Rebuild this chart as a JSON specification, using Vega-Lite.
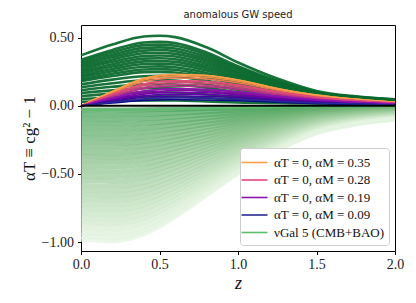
{
"$schema": "https://vega.github.io/schema/vega-lite/v6.json",
"width": 314, "height": 226,
"autosize": {"type": "none"},
"padding": {"left": 81, "top": 25, "right": 21, "bottom": 52},
"background": "white",
"title": {"text": "anomalous GW speed", "fontSize": 10, "font": "DejaVu Sans", "fontWeight": "normal", "offset": 5, "color": "#222"},
"config": {
  "view": {"stroke": "black", "strokeWidth": 1},
  "axis": {"grid": false, "domain": false, "tickColor": "black", "tickSize": 3.5, "labelFlush": false, "labelFont": "Liberation Serif", "labelFontSize": 14, "labelColor": "#222", "titleFont": "Liberation Serif", "titleFontWeight": "normal", "titleColor": "#111"}
},
"data": {"values": [
{"s":"n","v":0.03,"z":0,"y":-0.03,"lab":"νGal 5 (CMB+BAO)"},{"s":"n","v":0.03,"z":0.2,"y":-0.03,"lab":"νGal 5 (CMB+BAO)"},{"s":"n","v":0.03,"z":0.4,"y":-0.029,"lab":"νGal 5 (CMB+BAO)"},{"s":"n","v":0.03,"z":0.6,"y":-0.025,"lab":"νGal 5 (CMB+BAO)"},{"s":"n","v":0.03,"z":0.8,"y":-0.02,"lab":"νGal 5 (CMB+BAO)"},{"s":"n","v":0.03,"z":1,"y":-0.015,"lab":"νGal 5 (CMB+BAO)"},{"s":"n","v":0.03,"z":1.25,"y":-0.01,"lab":"νGal 5 (CMB+BAO)"},{"s":"n","v":0.03,"z":1.5,"y":-0.006,"lab":"νGal 5 (CMB+BAO)"},{"s":"n","v":0.03,"z":1.75,"y":-0.004,"lab":"νGal 5 (CMB+BAO)"},{"s":"n","v":0.03,"z":2,"y":-0.003,"lab":"νGal 5 (CMB+BAO)"},
{"s":"n","v":0.065,"z":0,"y":-0.064},{"s":"n","v":0.065,"z":0.2,"y":-0.065},{"s":"n","v":0.065,"z":0.4,"y":-0.062},{"s":"n","v":0.065,"z":0.6,"y":-0.053},{"s":"n","v":0.065,"z":0.8,"y":-0.043},{"s":"n","v":0.065,"z":1,"y":-0.033},{"s":"n","v":0.065,"z":1.25,"y":-0.021},{"s":"n","v":0.065,"z":1.5,"y":-0.013},{"s":"n","v":0.065,"z":1.75,"y":-0.009},{"s":"n","v":0.065,"z":2,"y":-0.007},
{"s":"n","v":0.1,"z":0,"y":-0.099},{"s":"n","v":0.1,"z":0.2,"y":-0.1},{"s":"n","v":0.1,"z":0.4,"y":-0.095},{"s":"n","v":0.1,"z":0.6,"y":-0.082},{"s":"n","v":0.1,"z":0.8,"y":-0.066},{"s":"n","v":0.1,"z":1,"y":-0.05},{"s":"n","v":0.1,"z":1.25,"y":-0.033},{"s":"n","v":0.1,"z":1.5,"y":-0.02},{"s":"n","v":0.1,"z":1.75,"y":-0.014},{"s":"n","v":0.1,"z":2,"y":-0.01},
{"s":"n","v":0.135,"z":0,"y":-0.134},{"s":"n","v":0.135,"z":0.2,"y":-0.135},{"s":"n","v":0.135,"z":0.4,"y":-0.128},{"s":"n","v":0.135,"z":0.6,"y":-0.111},{"s":"n","v":0.135,"z":0.8,"y":-0.089},{"s":"n","v":0.135,"z":1,"y":-0.068},{"s":"n","v":0.135,"z":1.25,"y":-0.045},{"s":"n","v":0.135,"z":1.5,"y":-0.027},{"s":"n","v":0.135,"z":1.75,"y":-0.018},{"s":"n","v":0.135,"z":2,"y":-0.014},
{"s":"n","v":0.17,"z":0,"y":-0.168},{"s":"n","v":0.17,"z":0.2,"y":-0.17},{"s":"n","v":0.17,"z":0.4,"y":-0.162},{"s":"n","v":0.17,"z":0.6,"y":-0.139},{"s":"n","v":0.17,"z":0.8,"y":-0.112},{"s":"n","v":0.17,"z":1,"y":-0.085},{"s":"n","v":0.17,"z":1.25,"y":-0.056},{"s":"n","v":0.17,"z":1.5,"y":-0.034},{"s":"n","v":0.17,"z":1.75,"y":-0.023},{"s":"n","v":0.17,"z":2,"y":-0.017},
{"s":"n","v":0.205,"z":0,"y":-0.203},{"s":"n","v":0.205,"z":0.2,"y":-0.205},{"s":"n","v":0.205,"z":0.4,"y":-0.195},{"s":"n","v":0.205,"z":0.6,"y":-0.168},{"s":"n","v":0.205,"z":0.8,"y":-0.135},{"s":"n","v":0.205,"z":1,"y":-0.103},{"s":"n","v":0.205,"z":1.25,"y":-0.068},{"s":"n","v":0.205,"z":1.5,"y":-0.041},{"s":"n","v":0.205,"z":1.75,"y":-0.028},{"s":"n","v":0.205,"z":2,"y":-0.021},
{"s":"n","v":0.24,"z":0,"y":-0.238},{"s":"n","v":0.24,"z":0.2,"y":-0.24},{"s":"n","v":0.24,"z":0.4,"y":-0.228},{"s":"n","v":0.24,"z":0.6,"y":-0.197},{"s":"n","v":0.24,"z":0.8,"y":-0.158},{"s":"n","v":0.24,"z":1,"y":-0.12},{"s":"n","v":0.24,"z":1.25,"y":-0.079},{"s":"n","v":0.24,"z":1.5,"y":-0.048},{"s":"n","v":0.24,"z":1.75,"y":-0.032},{"s":"n","v":0.24,"z":2,"y":-0.024},
{"s":"n","v":0.275,"z":0,"y":-0.272},{"s":"n","v":0.275,"z":0.2,"y":-0.275},{"s":"n","v":0.275,"z":0.4,"y":-0.261},{"s":"n","v":0.275,"z":0.6,"y":-0.226},{"s":"n","v":0.275,"z":0.8,"y":-0.182},{"s":"n","v":0.275,"z":1,"y":-0.138},{"s":"n","v":0.275,"z":1.25,"y":-0.091},{"s":"n","v":0.275,"z":1.5,"y":-0.055},{"s":"n","v":0.275,"z":1.75,"y":-0.037},{"s":"n","v":0.275,"z":2,"y":-0.028},
{"s":"n","v":0.31,"z":0,"y":-0.307},{"s":"n","v":0.31,"z":0.2,"y":-0.31},{"s":"n","v":0.31,"z":0.4,"y":-0.295},{"s":"n","v":0.31,"z":0.6,"y":-0.254},{"s":"n","v":0.31,"z":0.8,"y":-0.205},{"s":"n","v":0.31,"z":1,"y":-0.155},{"s":"n","v":0.31,"z":1.25,"y":-0.102},{"s":"n","v":0.31,"z":1.5,"y":-0.062},{"s":"n","v":0.31,"z":1.75,"y":-0.042},{"s":"n","v":0.31,"z":2,"y":-0.031},
{"s":"n","v":0.345,"z":0,"y":-0.342},{"s":"n","v":0.345,"z":0.2,"y":-0.345},{"s":"n","v":0.345,"z":0.4,"y":-0.328},{"s":"n","v":0.345,"z":0.6,"y":-0.283},{"s":"n","v":0.345,"z":0.8,"y":-0.228},{"s":"n","v":0.345,"z":1,"y":-0.173},{"s":"n","v":0.345,"z":1.25,"y":-0.114},{"s":"n","v":0.345,"z":1.5,"y":-0.069},{"s":"n","v":0.345,"z":1.75,"y":-0.047},{"s":"n","v":0.345,"z":2,"y":-0.035},
{"s":"n","v":0.38,"z":0,"y":-0.376},{"s":"n","v":0.38,"z":0.2,"y":-0.38},{"s":"n","v":0.38,"z":0.4,"y":-0.361},{"s":"n","v":0.38,"z":0.6,"y":-0.312},{"s":"n","v":0.38,"z":0.8,"y":-0.251},{"s":"n","v":0.38,"z":1,"y":-0.19},{"s":"n","v":0.38,"z":1.25,"y":-0.125},{"s":"n","v":0.38,"z":1.5,"y":-0.076},{"s":"n","v":0.38,"z":1.75,"y":-0.051},{"s":"n","v":0.38,"z":2,"y":-0.038},
{"s":"n","v":0.415,"z":0,"y":-0.411},{"s":"n","v":0.415,"z":0.2,"y":-0.415},{"s":"n","v":0.415,"z":0.4,"y":-0.394},{"s":"n","v":0.415,"z":0.6,"y":-0.34},{"s":"n","v":0.415,"z":0.8,"y":-0.274},{"s":"n","v":0.415,"z":1,"y":-0.208},{"s":"n","v":0.415,"z":1.25,"y":-0.137},{"s":"n","v":0.415,"z":1.5,"y":-0.083},{"s":"n","v":0.415,"z":1.75,"y":-0.056},{"s":"n","v":0.415,"z":2,"y":-0.042},
{"s":"n","v":0.45,"z":0,"y":-0.446},{"s":"n","v":0.45,"z":0.2,"y":-0.45},{"s":"n","v":0.45,"z":0.4,"y":-0.428},{"s":"n","v":0.45,"z":0.6,"y":-0.369},{"s":"n","v":0.45,"z":0.8,"y":-0.297},{"s":"n","v":0.45,"z":1,"y":-0.225},{"s":"n","v":0.45,"z":1.25,"y":-0.149},{"s":"n","v":0.45,"z":1.5,"y":-0.09},{"s":"n","v":0.45,"z":1.75,"y":-0.061},{"s":"n","v":0.45,"z":2,"y":-0.045},
{"s":"n","v":0.485,"z":0,"y":-0.48},{"s":"n","v":0.485,"z":0.2,"y":-0.485},{"s":"n","v":0.485,"z":0.4,"y":-0.461},{"s":"n","v":0.485,"z":0.6,"y":-0.398},{"s":"n","v":0.485,"z":0.8,"y":-0.32},{"s":"n","v":0.485,"z":1,"y":-0.243},{"s":"n","v":0.485,"z":1.25,"y":-0.16},{"s":"n","v":0.485,"z":1.5,"y":-0.097},{"s":"n","v":0.485,"z":1.75,"y":-0.065},{"s":"n","v":0.485,"z":2,"y":-0.049},
{"s":"n","v":0.52,"z":0,"y":-0.515},{"s":"n","v":0.52,"z":0.2,"y":-0.52},{"s":"n","v":0.52,"z":0.4,"y":-0.494},{"s":"n","v":0.52,"z":0.6,"y":-0.426},{"s":"n","v":0.52,"z":0.8,"y":-0.343},{"s":"n","v":0.52,"z":1,"y":-0.26},{"s":"n","v":0.52,"z":1.25,"y":-0.172},{"s":"n","v":0.52,"z":1.5,"y":-0.104},{"s":"n","v":0.52,"z":1.75,"y":-0.07},{"s":"n","v":0.52,"z":2,"y":-0.052},
{"s":"n","v":0.555,"z":0,"y":-0.549},{"s":"n","v":0.555,"z":0.2,"y":-0.555},{"s":"n","v":0.555,"z":0.4,"y":-0.527},{"s":"n","v":0.555,"z":0.6,"y":-0.455},{"s":"n","v":0.555,"z":0.8,"y":-0.366},{"s":"n","v":0.555,"z":1,"y":-0.278},{"s":"n","v":0.555,"z":1.25,"y":-0.183},{"s":"n","v":0.555,"z":1.5,"y":-0.111},{"s":"n","v":0.555,"z":1.75,"y":-0.075},{"s":"n","v":0.555,"z":2,"y":-0.056},
{"s":"n","v":0.59,"z":0,"y":-0.584},{"s":"n","v":0.59,"z":0.2,"y":-0.59},{"s":"n","v":0.59,"z":0.4,"y":-0.561},{"s":"n","v":0.59,"z":0.6,"y":-0.484},{"s":"n","v":0.59,"z":0.8,"y":-0.389},{"s":"n","v":0.59,"z":1,"y":-0.295},{"s":"n","v":0.59,"z":1.25,"y":-0.195},{"s":"n","v":0.59,"z":1.5,"y":-0.118},{"s":"n","v":0.59,"z":1.75,"y":-0.08},{"s":"n","v":0.59,"z":2,"y":-0.059},
{"s":"n","v":0.625,"z":0,"y":-0.619},{"s":"n","v":0.625,"z":0.2,"y":-0.625},{"s":"n","v":0.625,"z":0.4,"y":-0.594},{"s":"n","v":0.625,"z":0.6,"y":-0.513},{"s":"n","v":0.625,"z":0.8,"y":-0.413},{"s":"n","v":0.625,"z":1,"y":-0.313},{"s":"n","v":0.625,"z":1.25,"y":-0.206},{"s":"n","v":0.625,"z":1.5,"y":-0.125},{"s":"n","v":0.625,"z":1.75,"y":-0.084},{"s":"n","v":0.625,"z":2,"y":-0.063},
{"s":"n","v":0.66,"z":0,"y":-0.653},{"s":"n","v":0.66,"z":0.2,"y":-0.66},{"s":"n","v":0.66,"z":0.4,"y":-0.627},{"s":"n","v":0.66,"z":0.6,"y":-0.541},{"s":"n","v":0.66,"z":0.8,"y":-0.436},{"s":"n","v":0.66,"z":1,"y":-0.33},{"s":"n","v":0.66,"z":1.25,"y":-0.218},{"s":"n","v":0.66,"z":1.5,"y":-0.132},{"s":"n","v":0.66,"z":1.75,"y":-0.089},{"s":"n","v":0.66,"z":2,"y":-0.066},
{"s":"n","v":0.695,"z":0,"y":-0.688},{"s":"n","v":0.695,"z":0.2,"y":-0.695},{"s":"n","v":0.695,"z":0.4,"y":-0.66},{"s":"n","v":0.695,"z":0.6,"y":-0.57},{"s":"n","v":0.695,"z":0.8,"y":-0.459},{"s":"n","v":0.695,"z":1,"y":-0.348},{"s":"n","v":0.695,"z":1.25,"y":-0.229},{"s":"n","v":0.695,"z":1.5,"y":-0.139},{"s":"n","v":0.695,"z":1.75,"y":-0.094},{"s":"n","v":0.695,"z":2,"y":-0.07},
{"s":"n","v":0.73,"z":0,"y":-0.723},{"s":"n","v":0.73,"z":0.2,"y":-0.73},{"s":"n","v":0.73,"z":0.4,"y":-0.694},{"s":"n","v":0.73,"z":0.6,"y":-0.599},{"s":"n","v":0.73,"z":0.8,"y":-0.482},{"s":"n","v":0.73,"z":1,"y":-0.365},{"s":"n","v":0.73,"z":1.25,"y":-0.241},{"s":"n","v":0.73,"z":1.5,"y":-0.146},{"s":"n","v":0.73,"z":1.75,"y":-0.099},{"s":"n","v":0.73,"z":2,"y":-0.073},
{"s":"n","v":0.765,"z":0,"y":-0.757},{"s":"n","v":0.765,"z":0.2,"y":-0.765},{"s":"n","v":0.765,"z":0.4,"y":-0.727},{"s":"n","v":0.765,"z":0.6,"y":-0.627},{"s":"n","v":0.765,"z":0.8,"y":-0.505},{"s":"n","v":0.765,"z":1,"y":-0.383},{"s":"n","v":0.765,"z":1.25,"y":-0.252},{"s":"n","v":0.765,"z":1.5,"y":-0.153},{"s":"n","v":0.765,"z":1.75,"y":-0.103},{"s":"n","v":0.765,"z":2,"y":-0.077},
{"s":"n","v":0.8,"z":0,"y":-0.792},{"s":"n","v":0.8,"z":0.2,"y":-0.8},{"s":"n","v":0.8,"z":0.4,"y":-0.76},{"s":"n","v":0.8,"z":0.6,"y":-0.656},{"s":"n","v":0.8,"z":0.8,"y":-0.528},{"s":"n","v":0.8,"z":1,"y":-0.4},{"s":"n","v":0.8,"z":1.25,"y":-0.264},{"s":"n","v":0.8,"z":1.5,"y":-0.16},{"s":"n","v":0.8,"z":1.75,"y":-0.108},{"s":"n","v":0.8,"z":2,"y":-0.08},
{"s":"n","v":0.835,"z":0,"y":-0.827},{"s":"n","v":0.835,"z":0.2,"y":-0.835},{"s":"n","v":0.835,"z":0.4,"y":-0.793},{"s":"n","v":0.835,"z":0.6,"y":-0.685},{"s":"n","v":0.835,"z":0.8,"y":-0.551},{"s":"n","v":0.835,"z":1,"y":-0.418},{"s":"n","v":0.835,"z":1.25,"y":-0.276},{"s":"n","v":0.835,"z":1.5,"y":-0.167},{"s":"n","v":0.835,"z":1.75,"y":-0.113},{"s":"n","v":0.835,"z":2,"y":-0.084},
{"s":"n","v":0.87,"z":0,"y":-0.861},{"s":"n","v":0.87,"z":0.2,"y":-0.87},{"s":"n","v":0.87,"z":0.4,"y":-0.827},{"s":"n","v":0.87,"z":0.6,"y":-0.713},{"s":"n","v":0.87,"z":0.8,"y":-0.574},{"s":"n","v":0.87,"z":1,"y":-0.435},{"s":"n","v":0.87,"z":1.25,"y":-0.287},{"s":"n","v":0.87,"z":1.5,"y":-0.174},{"s":"n","v":0.87,"z":1.75,"y":-0.117},{"s":"n","v":0.87,"z":2,"y":-0.087},
{"s":"n","v":0.905,"z":0,"y":-0.896},{"s":"n","v":0.905,"z":0.2,"y":-0.905},{"s":"n","v":0.905,"z":0.4,"y":-0.86},{"s":"n","v":0.905,"z":0.6,"y":-0.742},{"s":"n","v":0.905,"z":0.8,"y":-0.597},{"s":"n","v":0.905,"z":1,"y":-0.453},{"s":"n","v":0.905,"z":1.25,"y":-0.299},{"s":"n","v":0.905,"z":1.5,"y":-0.181},{"s":"n","v":0.905,"z":1.75,"y":-0.122},{"s":"n","v":0.905,"z":2,"y":-0.091},
{"s":"n","v":0.94,"z":0,"y":-0.931},{"s":"n","v":0.94,"z":0.2,"y":-0.94},{"s":"n","v":0.94,"z":0.4,"y":-0.893},{"s":"n","v":0.94,"z":0.6,"y":-0.771},{"s":"n","v":0.94,"z":0.8,"y":-0.62},{"s":"n","v":0.94,"z":1,"y":-0.47},{"s":"n","v":0.94,"z":1.25,"y":-0.31},{"s":"n","v":0.94,"z":1.5,"y":-0.188},{"s":"n","v":0.94,"z":1.75,"y":-0.127},{"s":"n","v":0.94,"z":2,"y":-0.094},
{"s":"n","v":0.97,"z":0,"y":-0.96},{"s":"n","v":0.97,"z":0.2,"y":-0.97},{"s":"n","v":0.97,"z":0.4,"y":-0.922},{"s":"n","v":0.97,"z":0.6,"y":-0.795},{"s":"n","v":0.97,"z":0.8,"y":-0.64},{"s":"n","v":0.97,"z":1,"y":-0.485},{"s":"n","v":0.97,"z":1.25,"y":-0.32},{"s":"n","v":0.97,"z":1.5,"y":-0.194},{"s":"n","v":0.97,"z":1.75,"y":-0.131},{"s":"n","v":0.97,"z":2,"y":-0.097},
{"s":"n","v":0.99,"z":0,"y":-0.98},{"s":"n","v":0.99,"z":0.2,"y":-0.99},{"s":"n","v":0.99,"z":0.4,"y":-0.941},{"s":"n","v":0.99,"z":0.6,"y":-0.812},{"s":"n","v":0.99,"z":0.8,"y":-0.653},{"s":"n","v":0.99,"z":1,"y":-0.495},{"s":"n","v":0.99,"z":1.25,"y":-0.327},{"s":"n","v":0.99,"z":1.5,"y":-0.198},{"s":"n","v":0.99,"z":1.75,"y":-0.134},{"s":"n","v":0.99,"z":2,"y":-0.099},
{"s":"p","v":0.515,"z":0,"y":0.371},{"s":"p","v":0.515,"z":0.2,"y":0.451},{"s":"p","v":0.515,"z":0.4,"y":0.51},{"s":"p","v":0.515,"z":0.5,"y":0.515},{"s":"p","v":0.515,"z":0.6,"y":0.505},{"s":"p","v":0.515,"z":0.8,"y":0.43},{"s":"p","v":0.515,"z":1,"y":0.319},{"s":"p","v":0.515,"z":1.25,"y":0.201},{"s":"p","v":0.515,"z":1.5,"y":0.11},{"s":"p","v":0.515,"z":1.75,"y":0.07},{"s":"p","v":0.515,"z":2,"y":0.048},
{"s":"p","v":0.47,"z":0,"y":0.338},{"s":"p","v":0.47,"z":0.2,"y":0.411},{"s":"p","v":0.47,"z":0.4,"y":0.465},{"s":"p","v":0.47,"z":0.5,"y":0.47},{"s":"p","v":0.47,"z":0.6,"y":0.461},{"s":"p","v":0.47,"z":0.8,"y":0.392},{"s":"p","v":0.47,"z":1,"y":0.291},{"s":"p","v":0.47,"z":1.25,"y":0.184},{"s":"p","v":0.47,"z":1.5,"y":0.102},{"s":"p","v":0.47,"z":1.75,"y":0.066},{"s":"p","v":0.47,"z":2,"y":0.046},
{"s":"p","v":0.45,"z":0,"y":0.324},{"s":"p","v":0.45,"z":0.2,"y":0.394},{"s":"p","v":0.45,"z":0.4,"y":0.446},{"s":"p","v":0.45,"z":0.5,"y":0.45},{"s":"p","v":0.45,"z":0.6,"y":0.441},{"s":"p","v":0.45,"z":0.8,"y":0.376},{"s":"p","v":0.45,"z":1,"y":0.279},{"s":"p","v":0.45,"z":1.25,"y":0.177},{"s":"p","v":0.45,"z":1.5,"y":0.099},{"s":"p","v":0.45,"z":1.75,"y":0.064},{"s":"p","v":0.45,"z":2,"y":0.045},
{"s":"p","v":0.43,"z":0,"y":0.31},{"s":"p","v":0.43,"z":0.2,"y":0.376},{"s":"p","v":0.43,"z":0.4,"y":0.426},{"s":"p","v":0.43,"z":0.5,"y":0.43},{"s":"p","v":0.43,"z":0.6,"y":0.421},{"s":"p","v":0.43,"z":0.8,"y":0.359},{"s":"p","v":0.43,"z":1,"y":0.267},{"s":"p","v":0.43,"z":1.25,"y":0.169},{"s":"p","v":0.43,"z":1.5,"y":0.095},{"s":"p","v":0.43,"z":1.75,"y":0.062},{"s":"p","v":0.43,"z":2,"y":0.044},
{"s":"p","v":0.41,"z":0,"y":0.295},{"s":"p","v":0.41,"z":0.2,"y":0.359},{"s":"p","v":0.41,"z":0.4,"y":0.406},{"s":"p","v":0.41,"z":0.5,"y":0.41},{"s":"p","v":0.41,"z":0.6,"y":0.402},{"s":"p","v":0.41,"z":0.8,"y":0.342},{"s":"p","v":0.41,"z":1,"y":0.254},{"s":"p","v":0.41,"z":1.25,"y":0.162},{"s":"p","v":0.41,"z":1.5,"y":0.092},{"s":"p","v":0.41,"z":1.75,"y":0.06},{"s":"p","v":0.41,"z":2,"y":0.043},
{"s":"p","v":0.39,"z":0,"y":0.281},{"s":"p","v":0.39,"z":0.2,"y":0.341},{"s":"p","v":0.39,"z":0.4,"y":0.386},{"s":"p","v":0.39,"z":0.5,"y":0.39},{"s":"p","v":0.39,"z":0.6,"y":0.382},{"s":"p","v":0.39,"z":0.8,"y":0.326},{"s":"p","v":0.39,"z":1,"y":0.242},{"s":"p","v":0.39,"z":1.25,"y":0.154},{"s":"p","v":0.39,"z":1.5,"y":0.088},{"s":"p","v":0.39,"z":1.75,"y":0.058},{"s":"p","v":0.39,"z":2,"y":0.041},
{"s":"p","v":0.37,"z":0,"y":0.266},{"s":"p","v":0.37,"z":0.2,"y":0.324},{"s":"p","v":0.37,"z":0.4,"y":0.366},{"s":"p","v":0.37,"z":0.5,"y":0.37},{"s":"p","v":0.37,"z":0.6,"y":0.363},{"s":"p","v":0.37,"z":0.8,"y":0.309},{"s":"p","v":0.37,"z":1,"y":0.229},{"s":"p","v":0.37,"z":1.25,"y":0.147},{"s":"p","v":0.37,"z":1.5,"y":0.085},{"s":"p","v":0.37,"z":1.75,"y":0.056},{"s":"p","v":0.37,"z":2,"y":0.04},
{"s":"p","v":0.35,"z":0,"y":0.252},{"s":"p","v":0.35,"z":0.2,"y":0.306},{"s":"p","v":0.35,"z":0.4,"y":0.347},{"s":"p","v":0.35,"z":0.5,"y":0.35},{"s":"p","v":0.35,"z":0.6,"y":0.343},{"s":"p","v":0.35,"z":0.8,"y":0.292},{"s":"p","v":0.35,"z":1,"y":0.217},{"s":"p","v":0.35,"z":1.25,"y":0.14},{"s":"p","v":0.35,"z":1.5,"y":0.081},{"s":"p","v":0.35,"z":1.75,"y":0.054},{"s":"p","v":0.35,"z":2,"y":0.039},
{"s":"p","v":0.33,"z":0,"y":0.238},{"s":"p","v":0.33,"z":0.2,"y":0.289},{"s":"p","v":0.33,"z":0.4,"y":0.327},{"s":"p","v":0.33,"z":0.5,"y":0.33},{"s":"p","v":0.33,"z":0.6,"y":0.323},{"s":"p","v":0.33,"z":0.8,"y":0.276},{"s":"p","v":0.33,"z":1,"y":0.205},{"s":"p","v":0.33,"z":1.25,"y":0.132},{"s":"p","v":0.33,"z":1.5,"y":0.078},{"s":"p","v":0.33,"z":1.75,"y":0.052},{"s":"p","v":0.33,"z":2,"y":0.038},
{"s":"p","v":0.31,"z":0,"y":0.223},{"s":"p","v":0.31,"z":0.2,"y":0.271},{"s":"p","v":0.31,"z":0.4,"y":0.307},{"s":"p","v":0.31,"z":0.5,"y":0.31},{"s":"p","v":0.31,"z":0.6,"y":0.304},{"s":"p","v":0.31,"z":0.8,"y":0.259},{"s":"p","v":0.31,"z":1,"y":0.192},{"s":"p","v":0.31,"z":1.25,"y":0.125},{"s":"p","v":0.31,"z":1.5,"y":0.074},{"s":"p","v":0.31,"z":1.75,"y":0.05},{"s":"p","v":0.31,"z":2,"y":0.037},
{"s":"p","v":0.29,"z":0,"y":0.209},{"s":"p","v":0.29,"z":0.2,"y":0.254},{"s":"p","v":0.29,"z":0.4,"y":0.287},{"s":"p","v":0.29,"z":0.5,"y":0.29},{"s":"p","v":0.29,"z":0.6,"y":0.284},{"s":"p","v":0.29,"z":0.8,"y":0.242},{"s":"p","v":0.29,"z":1,"y":0.18},{"s":"p","v":0.29,"z":1.25,"y":0.117},{"s":"p","v":0.29,"z":1.5,"y":0.071},{"s":"p","v":0.29,"z":1.75,"y":0.048},{"s":"p","v":0.29,"z":2,"y":0.036},
{"s":"p","v":0.27,"z":0,"y":0.194},{"s":"p","v":0.27,"z":0.2,"y":0.236},{"s":"p","v":0.27,"z":0.4,"y":0.267},{"s":"p","v":0.27,"z":0.5,"y":0.27},{"s":"p","v":0.27,"z":0.6,"y":0.265},{"s":"p","v":0.27,"z":0.8,"y":0.225},{"s":"p","v":0.27,"z":1,"y":0.167},{"s":"p","v":0.27,"z":1.25,"y":0.11},{"s":"p","v":0.27,"z":1.5,"y":0.067},{"s":"p","v":0.27,"z":1.75,"y":0.046},{"s":"p","v":0.27,"z":2,"y":0.035},
{"s":"p","v":0.25,"z":0,"y":0.18},{"s":"p","v":0.25,"z":0.2,"y":0.219},{"s":"p","v":0.25,"z":0.4,"y":0.248},{"s":"p","v":0.25,"z":0.5,"y":0.25},{"s":"p","v":0.25,"z":0.6,"y":0.245},{"s":"p","v":0.25,"z":0.8,"y":0.209},{"s":"p","v":0.25,"z":1,"y":0.155},{"s":"p","v":0.25,"z":1.25,"y":0.103},{"s":"p","v":0.25,"z":1.5,"y":0.064},{"s":"p","v":0.25,"z":1.75,"y":0.044},{"s":"p","v":0.25,"z":2,"y":0.034},
{"s":"p","v":0.22,"z":0,"y":0.158},{"s":"p","v":0.22,"z":0.2,"y":0.193},{"s":"p","v":0.22,"z":0.4,"y":0.218},{"s":"p","v":0.22,"z":0.5,"y":0.22},{"s":"p","v":0.22,"z":0.6,"y":0.216},{"s":"p","v":0.22,"z":0.8,"y":0.184},{"s":"p","v":0.22,"z":1,"y":0.136},{"s":"p","v":0.22,"z":1.25,"y":0.091},{"s":"p","v":0.22,"z":1.5,"y":0.059},{"s":"p","v":0.22,"z":1.75,"y":0.041},{"s":"p","v":0.22,"z":2,"y":0.032},
{"s":"p","v":0.19,"z":0,"y":0.137},{"s":"p","v":0.19,"z":0.2,"y":0.166},{"s":"p","v":0.19,"z":0.4,"y":0.188},{"s":"p","v":0.19,"z":0.5,"y":0.19},{"s":"p","v":0.19,"z":0.6,"y":0.186},{"s":"p","v":0.19,"z":0.8,"y":0.159},{"s":"p","v":0.19,"z":1,"y":0.118},{"s":"p","v":0.19,"z":1.25,"y":0.08},{"s":"p","v":0.19,"z":1.5,"y":0.053},{"s":"p","v":0.19,"z":1.75,"y":0.038},{"s":"p","v":0.19,"z":2,"y":0.03},
{"s":"p","v":0.16,"z":0,"y":0.115},{"s":"p","v":0.16,"z":0.2,"y":0.14},{"s":"p","v":0.16,"z":0.4,"y":0.158},{"s":"p","v":0.16,"z":0.5,"y":0.16},{"s":"p","v":0.16,"z":0.6,"y":0.157},{"s":"p","v":0.16,"z":0.8,"y":0.134},{"s":"p","v":0.16,"z":1,"y":0.099},{"s":"p","v":0.16,"z":1.25,"y":0.069},{"s":"p","v":0.16,"z":1.5,"y":0.048},{"s":"p","v":0.16,"z":1.75,"y":0.036},{"s":"p","v":0.16,"z":2,"y":0.029},
{"s":"p","v":0.13,"z":0,"y":0.094},{"s":"p","v":0.13,"z":0.2,"y":0.114},{"s":"p","v":0.13,"z":0.4,"y":0.129},{"s":"p","v":0.13,"z":0.5,"y":0.13},{"s":"p","v":0.13,"z":0.6,"y":0.127},{"s":"p","v":0.13,"z":0.8,"y":0.109},{"s":"p","v":0.13,"z":1,"y":0.081},{"s":"p","v":0.13,"z":1.25,"y":0.058},{"s":"p","v":0.13,"z":1.5,"y":0.043},{"s":"p","v":0.13,"z":1.75,"y":0.033},{"s":"p","v":0.13,"z":2,"y":0.027},
{"s":"p","v":0.1,"z":0,"y":0.072},{"s":"p","v":0.1,"z":0.2,"y":0.088},{"s":"p","v":0.1,"z":0.4,"y":0.099},{"s":"p","v":0.1,"z":0.5,"y":0.1},{"s":"p","v":0.1,"z":0.6,"y":0.098},{"s":"p","v":0.1,"z":0.8,"y":0.084},{"s":"p","v":0.1,"z":1,"y":0.062},{"s":"p","v":0.1,"z":1.25,"y":0.047},{"s":"p","v":0.1,"z":1.5,"y":0.038},{"s":"p","v":0.1,"z":1.75,"y":0.03},{"s":"p","v":0.1,"z":2,"y":0.026},
{"s":"p","v":0.07,"z":0,"y":0.05},{"s":"p","v":0.07,"z":0.2,"y":0.061},{"s":"p","v":0.07,"z":0.4,"y":0.069},{"s":"p","v":0.07,"z":0.5,"y":0.07},{"s":"p","v":0.07,"z":0.6,"y":0.069},{"s":"p","v":0.07,"z":0.8,"y":0.058},{"s":"p","v":0.07,"z":1,"y":0.043},{"s":"p","v":0.07,"z":1.25,"y":0.035},{"s":"p","v":0.07,"z":1.5,"y":0.028},{"s":"p","v":0.07,"z":1.75,"y":0.023},{"s":"p","v":0.07,"z":2,"y":0.021},
{"s":"p","v":0.04,"z":0,"y":0.029},{"s":"p","v":0.04,"z":0.2,"y":0.035},{"s":"p","v":0.04,"z":0.4,"y":0.04},{"s":"p","v":0.04,"z":0.5,"y":0.04},{"s":"p","v":0.04,"z":0.6,"y":0.039},{"s":"p","v":0.04,"z":0.8,"y":0.033},{"s":"p","v":0.04,"z":1,"y":0.025},{"s":"p","v":0.04,"z":1.25,"y":0.021},{"s":"p","v":0.04,"z":1.5,"y":0.019},{"s":"p","v":0.04,"z":1.75,"y":0.017},{"s":"p","v":0.04,"z":2,"y":0.016},
{"s":"c","v":0.35,"z":0,"y":0,"lab":"αT = 0, αM = 0.35"},{"s":"c","v":0.35,"z":0.1,"y":0.055,"lab":"αT = 0, αM = 0.35"},{"s":"c","v":0.35,"z":0.2,"y":0.106,"lab":"αT = 0, αM = 0.35"},{"s":"c","v":0.35,"z":0.4,"y":0.201,"lab":"αT = 0, αM = 0.35"},{"s":"c","v":0.35,"z":0.5,"y":0.223,"lab":"αT = 0, αM = 0.35"},{"s":"c","v":0.35,"z":0.6,"y":0.231,"lab":"αT = 0, αM = 0.35"},{"s":"c","v":0.35,"z":0.8,"y":0.223,"lab":"αT = 0, αM = 0.35"},{"s":"c","v":0.35,"z":1,"y":0.191,"lab":"αT = 0, αM = 0.35"},{"s":"c","v":0.35,"z":1.25,"y":0.128,"lab":"αT = 0, αM = 0.35"},{"s":"c","v":0.35,"z":1.5,"y":0.08,"lab":"αT = 0, αM = 0.35"},{"s":"c","v":0.35,"z":1.75,"y":0.05,"lab":"αT = 0, αM = 0.35"},{"s":"c","v":0.35,"z":2,"y":0.027,"lab":"αT = 0, αM = 0.35"},
{"s":"c","v":0.33,"z":0,"y":0},{"s":"c","v":0.33,"z":0.1,"y":0.052},{"s":"c","v":0.33,"z":0.2,"y":0.1},{"s":"c","v":0.33,"z":0.4,"y":0.19},{"s":"c","v":0.33,"z":0.5,"y":0.21},{"s":"c","v":0.33,"z":0.6,"y":0.218},{"s":"c","v":0.33,"z":0.8,"y":0.21},{"s":"c","v":0.33,"z":1,"y":0.18},{"s":"c","v":0.33,"z":1.25,"y":0.121},{"s":"c","v":0.33,"z":1.5,"y":0.076},{"s":"c","v":0.33,"z":1.75,"y":0.047},{"s":"c","v":0.33,"z":2,"y":0.026},
{"s":"c","v":0.31,"z":0,"y":0},{"s":"c","v":0.31,"z":0.1,"y":0.049},{"s":"c","v":0.31,"z":0.2,"y":0.094},{"s":"c","v":0.31,"z":0.4,"y":0.178},{"s":"c","v":0.31,"z":0.5,"y":0.198},{"s":"c","v":0.31,"z":0.6,"y":0.205},{"s":"c","v":0.31,"z":0.8,"y":0.198},{"s":"c","v":0.31,"z":1,"y":0.169},{"s":"c","v":0.31,"z":1.25,"y":0.114},{"s":"c","v":0.31,"z":1.5,"y":0.071},{"s":"c","v":0.31,"z":1.75,"y":0.044},{"s":"c","v":0.31,"z":2,"y":0.024},
{"s":"c","v":0.28,"z":0,"y":0,"lab":"αT = 0, αM = 0.28"},{"s":"c","v":0.28,"z":0.1,"y":0.044,"lab":"αT = 0, αM = 0.28"},{"s":"c","v":0.28,"z":0.2,"y":0.085,"lab":"αT = 0, αM = 0.28"},{"s":"c","v":0.28,"z":0.4,"y":0.161,"lab":"αT = 0, αM = 0.28"},{"s":"c","v":0.28,"z":0.5,"y":0.179,"lab":"αT = 0, αM = 0.28"},{"s":"c","v":0.28,"z":0.6,"y":0.185,"lab":"αT = 0, αM = 0.28"},{"s":"c","v":0.28,"z":0.8,"y":0.179,"lab":"αT = 0, αM = 0.28"},{"s":"c","v":0.28,"z":1,"y":0.153,"lab":"αT = 0, αM = 0.28"},{"s":"c","v":0.28,"z":1.25,"y":0.103,"lab":"αT = 0, αM = 0.28"},{"s":"c","v":0.28,"z":1.5,"y":0.064,"lab":"αT = 0, αM = 0.28"},{"s":"c","v":0.28,"z":1.75,"y":0.04,"lab":"αT = 0, αM = 0.28"},{"s":"c","v":0.28,"z":2,"y":0.022,"lab":"αT = 0, αM = 0.28"},
{"s":"c","v":0.26,"z":0,"y":0},{"s":"c","v":0.26,"z":0.1,"y":0.041},{"s":"c","v":0.26,"z":0.2,"y":0.079},{"s":"c","v":0.26,"z":0.4,"y":0.15},{"s":"c","v":0.26,"z":0.5,"y":0.166},{"s":"c","v":0.26,"z":0.6,"y":0.172},{"s":"c","v":0.26,"z":0.8,"y":0.166},{"s":"c","v":0.26,"z":1,"y":0.142},{"s":"c","v":0.26,"z":1.25,"y":0.096},{"s":"c","v":0.26,"z":1.5,"y":0.06},{"s":"c","v":0.26,"z":1.75,"y":0.037},{"s":"c","v":0.26,"z":2,"y":0.02},
{"s":"c","v":0.24,"z":0,"y":0},{"s":"c","v":0.24,"z":0.1,"y":0.038},{"s":"c","v":0.24,"z":0.2,"y":0.073},{"s":"c","v":0.24,"z":0.4,"y":0.137},{"s":"c","v":0.24,"z":0.5,"y":0.152},{"s":"c","v":0.24,"z":0.6,"y":0.158},{"s":"c","v":0.24,"z":0.8,"y":0.152},{"s":"c","v":0.24,"z":1,"y":0.131},{"s":"c","v":0.24,"z":1.25,"y":0.088},{"s":"c","v":0.24,"z":1.5,"y":0.055},{"s":"c","v":0.24,"z":1.75,"y":0.034},{"s":"c","v":0.24,"z":2,"y":0.018},
{"s":"c","v":0.22,"z":0,"y":0},{"s":"c","v":0.22,"z":0.1,"y":0.035},{"s":"c","v":0.22,"z":0.2,"y":0.067},{"s":"c","v":0.22,"z":0.4,"y":0.126},{"s":"c","v":0.22,"z":0.5,"y":0.14},{"s":"c","v":0.22,"z":0.6,"y":0.145},{"s":"c","v":0.22,"z":0.8,"y":0.14},{"s":"c","v":0.22,"z":1,"y":0.12},{"s":"c","v":0.22,"z":1.25,"y":0.081},{"s":"c","v":0.22,"z":1.5,"y":0.05},{"s":"c","v":0.22,"z":1.75,"y":0.031},{"s":"c","v":0.22,"z":2,"y":0.017},
{"s":"c","v":0.19,"z":0,"y":0,"lab":"αT = 0, αM = 0.19"},{"s":"c","v":0.19,"z":0.1,"y":0.03,"lab":"αT = 0, αM = 0.19"},{"s":"c","v":0.19,"z":0.2,"y":0.058,"lab":"αT = 0, αM = 0.19"},{"s":"c","v":0.19,"z":0.4,"y":0.109,"lab":"αT = 0, αM = 0.19"},{"s":"c","v":0.19,"z":0.5,"y":0.121,"lab":"αT = 0, αM = 0.19"},{"s":"c","v":0.19,"z":0.6,"y":0.125,"lab":"αT = 0, αM = 0.19"},{"s":"c","v":0.19,"z":0.8,"y":0.121,"lab":"αT = 0, αM = 0.19"},{"s":"c","v":0.19,"z":1,"y":0.103,"lab":"αT = 0, αM = 0.19"},{"s":"c","v":0.19,"z":1.25,"y":0.07,"lab":"αT = 0, αM = 0.19"},{"s":"c","v":0.19,"z":1.5,"y":0.044,"lab":"αT = 0, αM = 0.19"},{"s":"c","v":0.19,"z":1.75,"y":0.027,"lab":"αT = 0, αM = 0.19"},{"s":"c","v":0.19,"z":2,"y":0.015,"lab":"αT = 0, αM = 0.19"},
{"s":"c","v":0.17,"z":0,"y":0},{"s":"c","v":0.17,"z":0.1,"y":0.027},{"s":"c","v":0.17,"z":0.2,"y":0.052},{"s":"c","v":0.17,"z":0.4,"y":0.097},{"s":"c","v":0.17,"z":0.5,"y":0.108},{"s":"c","v":0.17,"z":0.6,"y":0.112},{"s":"c","v":0.17,"z":0.8,"y":0.108},{"s":"c","v":0.17,"z":1,"y":0.093},{"s":"c","v":0.17,"z":1.25,"y":0.062},{"s":"c","v":0.17,"z":1.5,"y":0.039},{"s":"c","v":0.17,"z":1.75,"y":0.024},{"s":"c","v":0.17,"z":2,"y":0.013},
{"s":"c","v":0.15,"z":0,"y":0},{"s":"c","v":0.15,"z":0.1,"y":0.024},{"s":"c","v":0.15,"z":0.2,"y":0.046},{"s":"c","v":0.15,"z":0.4,"y":0.086},{"s":"c","v":0.15,"z":0.5,"y":0.096},{"s":"c","v":0.15,"z":0.6,"y":0.099},{"s":"c","v":0.15,"z":0.8,"y":0.096},{"s":"c","v":0.15,"z":1,"y":0.082},{"s":"c","v":0.15,"z":1.25,"y":0.055},{"s":"c","v":0.15,"z":1.5,"y":0.034},{"s":"c","v":0.15,"z":1.75,"y":0.021},{"s":"c","v":0.15,"z":2,"y":0.012},
{"s":"c","v":0.13,"z":0,"y":0},{"s":"c","v":0.13,"z":0.1,"y":0.021},{"s":"c","v":0.13,"z":0.2,"y":0.04},{"s":"c","v":0.13,"z":0.4,"y":0.075},{"s":"c","v":0.13,"z":0.5,"y":0.083},{"s":"c","v":0.13,"z":0.6,"y":0.086},{"s":"c","v":0.13,"z":0.8,"y":0.083},{"s":"c","v":0.13,"z":1,"y":0.071},{"s":"c","v":0.13,"z":1.25,"y":0.048},{"s":"c","v":0.13,"z":1.5,"y":0.03},{"s":"c","v":0.13,"z":1.75,"y":0.019},{"s":"c","v":0.13,"z":2,"y":0.01},
{"s":"c","v":0.11,"z":0,"y":0},{"s":"c","v":0.11,"z":0.1,"y":0.018},{"s":"c","v":0.11,"z":0.2,"y":0.034},{"s":"c","v":0.11,"z":0.4,"y":0.064},{"s":"c","v":0.11,"z":0.5,"y":0.07},{"s":"c","v":0.11,"z":0.6,"y":0.073},{"s":"c","v":0.11,"z":0.8,"y":0.07},{"s":"c","v":0.11,"z":1,"y":0.06},{"s":"c","v":0.11,"z":1.25,"y":0.041},{"s":"c","v":0.11,"z":1.5,"y":0.025},{"s":"c","v":0.11,"z":1.75,"y":0.016},{"s":"c","v":0.11,"z":2,"y":0.009},
{"s":"c","v":0.09,"z":0,"y":0,"lab":"αT = 0, αM = 0.09"},{"s":"c","v":0.09,"z":0.1,"y":0.014,"lab":"αT = 0, αM = 0.09"},{"s":"c","v":0.09,"z":0.2,"y":0.027,"lab":"αT = 0, αM = 0.09"},{"s":"c","v":0.09,"z":0.4,"y":0.051,"lab":"αT = 0, αM = 0.09"},{"s":"c","v":0.09,"z":0.5,"y":0.057,"lab":"αT = 0, αM = 0.09"},{"s":"c","v":0.09,"z":0.6,"y":0.059,"lab":"αT = 0, αM = 0.09"},{"s":"c","v":0.09,"z":0.8,"y":0.057,"lab":"αT = 0, αM = 0.09"},{"s":"c","v":0.09,"z":1,"y":0.049,"lab":"αT = 0, αM = 0.09"},{"s":"c","v":0.09,"z":1.25,"y":0.033,"lab":"αT = 0, αM = 0.09"},{"s":"c","v":0.09,"z":1.5,"y":0.021,"lab":"αT = 0, αM = 0.09"},{"s":"c","v":0.09,"z":1.75,"y":0.013,"lab":"αT = 0, αM = 0.09"},{"s":"c","v":0.09,"z":2,"y":0.007,"lab":"αT = 0, αM = 0.09"},
{"s":"c","v":0.07,"z":0,"y":0},{"s":"c","v":0.07,"z":0.1,"y":0.011},{"s":"c","v":0.07,"z":0.2,"y":0.021},{"s":"c","v":0.07,"z":0.4,"y":0.04},{"s":"c","v":0.07,"z":0.5,"y":0.044},{"s":"c","v":0.07,"z":0.6,"y":0.046},{"s":"c","v":0.07,"z":0.8,"y":0.044},{"s":"c","v":0.07,"z":1,"y":0.038},{"s":"c","v":0.07,"z":1.25,"y":0.026},{"s":"c","v":0.07,"z":1.5,"y":0.016},{"s":"c","v":0.07,"z":1.75,"y":0.01},{"s":"c","v":0.07,"z":2,"y":0.005}
]},
"layer": [
  {
    "transform": [{"filter": "datum.s == 'n'"}],
    "mark": {"type": "line", "strokeWidth": 5, "opacity": 0.75, "interpolate": "monotone", "clip": true},
    "encoding": {
      "x": {"field": "z", "type": "quantitative", "scale": {"domain": [0, 2], "nice": false, "zero": false},
            "axis": {"values": [0, 0.5, 1, 1.5, 2], "format": ".1f", "title": "z", "labelFont": "Liberation Serif", "labelFontSize": 14, "labelFlush": false, "titleFont": "Liberation Serif", "titleFontStyle": "italic", "titleFontSize": 18, "labelPadding": 3, "titlePadding": 3}},
      "y": {"field": "y", "type": "quantitative", "scale": {"domain": [-1.066, 0.594], "nice": false, "zero": false},
            "axis": {"values": [-1, -0.75, -0.5, -0.25, 0, 0.25, 0.5], "format": ".2f", "title": "αT ≡ cg² − 1", "labelFont": "Liberation Serif", "labelFontSize": 14, "labelFlush": false, "titleFont": "Liberation Serif", "titleFontSize": 17, "labelPadding": 4, "titlePadding": 3}},
      "detail": {"field": "v", "type": "nominal"},
      "color": {"field": "v", "type": "quantitative", "scale": {"domain": [0, 1], "range": ["#3f9f56", "#e6f5e3"]}, "legend": null}
    }
  },
  {
    "transform": [{"filter": "datum.s == 'p'"}],
    "mark": {"type": "line", "strokeWidth": 2.6, "color": "#0c6a2e", "opacity": 0.95, "interpolate": "monotone"},
    "encoding": {
      "x": {"field": "z", "type": "quantitative"},
      "y": {"field": "y", "type": "quantitative"},
      "detail": {"field": "v", "type": "nominal"}
    }
  },
  {
    "transform": [{"filter": "datum.s == 'c'"}],
    "mark": {"type": "line", "strokeWidth": 1.5, "interpolate": "monotone"},
    "encoding": {
      "x": {"field": "z", "type": "quantitative"},
      "y": {"field": "y", "type": "quantitative"},
      "detail": {"field": "v", "type": "nominal"},
      "color": {"field": "v", "type": "quantitative", "scale": {"domain": [0.07, 0.35], "scheme": {"name": "plasma", "extent": [0, 0.78]}}, "legend": null}
    }
  },
  {
    "transform": [{"filter": "isValid(datum.lab)"}],
    "mark": {"type": "line", "strokeWidth": 1.5, "interpolate": "monotone"},
    "encoding": {
      "x": {"field": "z", "type": "quantitative"},
      "y": {"field": "y", "type": "quantitative"},
      "detail": {"field": "v", "type": "nominal"},
      "color": {"field": "lab", "type": "nominal",
        "scale": {"domain": ["αT = 0, αM = 0.35", "αT = 0, αM = 0.28", "αT = 0, αM = 0.19", "αT = 0, αM = 0.09", "νGal 5 (CMB+BAO)"],
                  "range": ["#f9a04a", "#e3487c", "#8c14b0", "#2b2a98", "#5cbd6b"]},
        "legend": {"title": null, "orient": "bottom-right", "offset": 6, "fillColor": "white", "strokeColor": "#cccccc", "cornerRadius": 3, "padding": 5,
                   "labelFont": "Liberation Serif", "labelFontSize": 13, "labelColor": "#111", "symbolType": "M-1.5,0H1.5", "symbolSize": 300, "symbolStrokeWidth": 1.6, "rowPadding": 0.5, "labelOffset": 10}}
    }
  },
  {
    "data": {"values": [{"y": 0}]},
    "mark": {"type": "rule", "color": "black", "strokeWidth": 2},
    "encoding": {"y": {"field": "y", "type": "quantitative"}}
  }
],
"resolve": {"scale": {"color": "independent"}}
}
